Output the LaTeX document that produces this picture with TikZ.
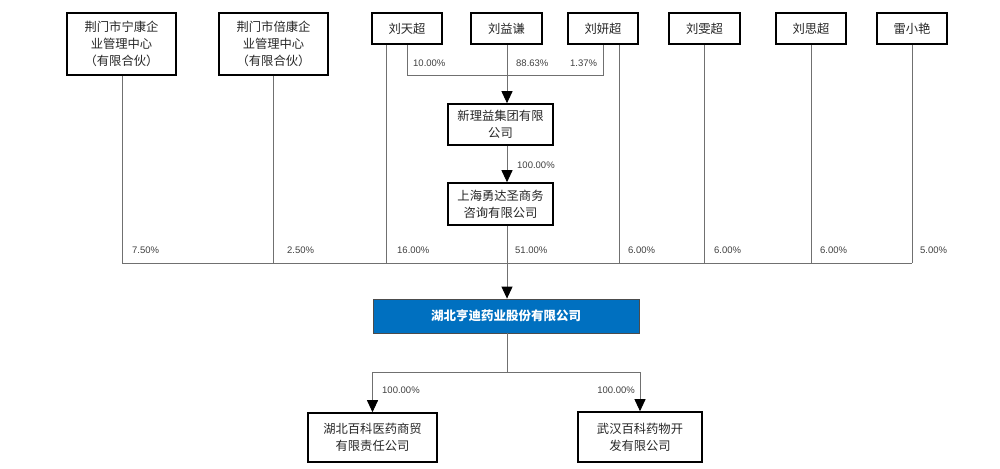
\documentclass[tikz,border=0pt]{standalone}
\usepackage{fontspec}
\setmainfont{Liberation Sans}
\newfontfamily\cjk{Noto Sans CJK SC}
\usetikzlibrary{arrows.meta}
\definecolor{mainblue}{HTML}{0070C0}
\definecolor{linegray}{HTML}{707070}
\definecolor{pcttext}{HTML}{404040}
\begin{document}
\begin{tikzpicture}[x=1pt,y=-1pt,
  box/.style={draw=black,line width=1.6pt,fill=white,align=center,inner sep=0pt,
    font=\cjk\fontsize{12.3}{16.8}\selectfont,text=black!85},
  mainbox/.style={draw=black!70,line width=0.8pt,fill=mainblue,align=center,inner sep=0pt,
    font=\cjk\bfseries\fontsize{12.5}{15}\selectfont,text=white},
  conn/.style={draw=linegray,line width=0.9pt},
  arr/.style={conn,-{Triangle[length=12pt,width=11pt,fill=black,color=black]}},
  pct/.style={font=\fontsize{9.5}{11}\selectfont,text=pcttext,inner sep=0pt}]
\useasboundingbox (0,0) rectangle (1000,468);
% top row
\node[box,minimum width=109pt,minimum height=62pt] (n1) at (121.5,44) {荆门市宁康企\\业管理中心\\（有限合伙）};
\node[box,minimum width=109pt,minimum height=62pt] (n2) at (273.5,44) {荆门市倍康企\\业管理中心\\（有限合伙）};
\node[box,minimum width=70pt,minimum height=31pt] (p1) at (407,28.5) {刘天超};
\node[box,minimum width=71pt,minimum height=31pt] (p2) at (506.5,28.5) {刘益谦};
\node[box,minimum width=70pt,minimum height=31pt] (p3) at (603,28.5) {刘妍超};
\node[box,minimum width=71pt,minimum height=31pt] (p4) at (704.5,28.5) {刘雯超};
\node[box,minimum width=70pt,minimum height=31pt] (p5) at (811,28.5) {刘思超};
\node[box,minimum width=70pt,minimum height=31pt] (p6) at (912,28.5) {雷小艳};
% intermediate
\node[box,minimum width=105pt,minimum height=41pt] (x1) at (500.5,124.5) {新理益集团有限\\公司};
\node[box,minimum width=105pt,minimum height=42pt] (x2) at (500.5,204) {上海勇达圣商务\\咨询有限公司};
% main
\node[mainbox,minimum width=266pt,minimum height=34pt] (m) at (506,316) {湖北亨迪药业股份有限公司};
% subsidiaries
\node[box,minimum width=129pt,minimum height=49pt] (b1) at (372.5,437.5) {湖北百科医药商贸\\有限责任公司};
\node[box,minimum width=124pt,minimum height=50pt] (b2) at (640,437) {武汉百科药物开\\发有限公司};
% coordinates
\coordinate (busL) at (122,263);
\coordinate (busR) at (912,263);
\coordinate (brY) at (0,75);
\coordinate (bY) at (0,372);
\coordinate (axis) at (507,0);
% bracket from p1/p3 into p2 line
\draw[conn] (p1.south) -- (p1.south |- brY) -- (p3.south |- brY) -- (p3.south);
\draw[arr] (p2.south -| axis) -- (x1.north -| axis);
\draw[arr] (x1.south -| axis) -- (x2.north -| axis);
% bus
\draw[conn] (busL) -- (busR);
\draw[conn] (n1.south -| busL) -- (busL);
\draw[conn] (n2.south) -- (n2.south |- busL);
\draw[conn] ([xshift=-21pt]p1.south) -- ([xshift=-21pt]p1.south |- busL);
\draw[conn] ([xshift=16pt]p3.south) -- ([xshift=16pt]p3.south |- busL);
\draw[conn] (p4.south) -- (p4.south |- busL);
\draw[conn] (p5.south) -- (p5.south |- busL);
\draw[conn] (p6.south) -- (busR);
\draw[conn] (x2.south -| axis) -- (axis |- busL);
\draw[arr] (axis |- busL) -- (m.north -| axis);
% bottom
\draw[conn] (m.south -| axis) -- (axis |- bY);
\draw[conn] (b1.north |- bY) -- (b2.north |- bY);
\draw[arr] (b1.north |- bY) -- (b1.north);
\draw[arr] (b2.north |- bY) -- (b2.north);
% labels
\node[pct,anchor=west] (l1) at (413,63) {10.00\%};
\node[pct,anchor=west] (l2) at (516,63) {88.63\%};
\node[pct,anchor=west] (l3) at (570,63) {1.37\%};
\node[pct,anchor=west] (l4) at (517,165) {100.00\%};
\node[pct,anchor=west] (l5) at (132,250) {7.50\%};
\node[pct,anchor=west] (l6) at (287,250) {2.50\%};
\node[pct,anchor=west] (l7) at (397,250) {16.00\%};
\node[pct,anchor=west] (l8) at (515,250) {51.00\%};
\node[pct,anchor=west] (l9) at (628,250) {6.00\%};
\node[pct,anchor=west] (l10) at (714,250) {6.00\%};
\node[pct,anchor=west] (l11) at (820,250) {6.00\%};
\node[pct,anchor=west] (l12) at (920,250) {5.00\%};
\node[pct,anchor=west] (l13) at (382,390) {100.00\%};
\node[pct,anchor=east] (l14) at (635,390) {100.00\%};
\end{tikzpicture}
\end{document}
